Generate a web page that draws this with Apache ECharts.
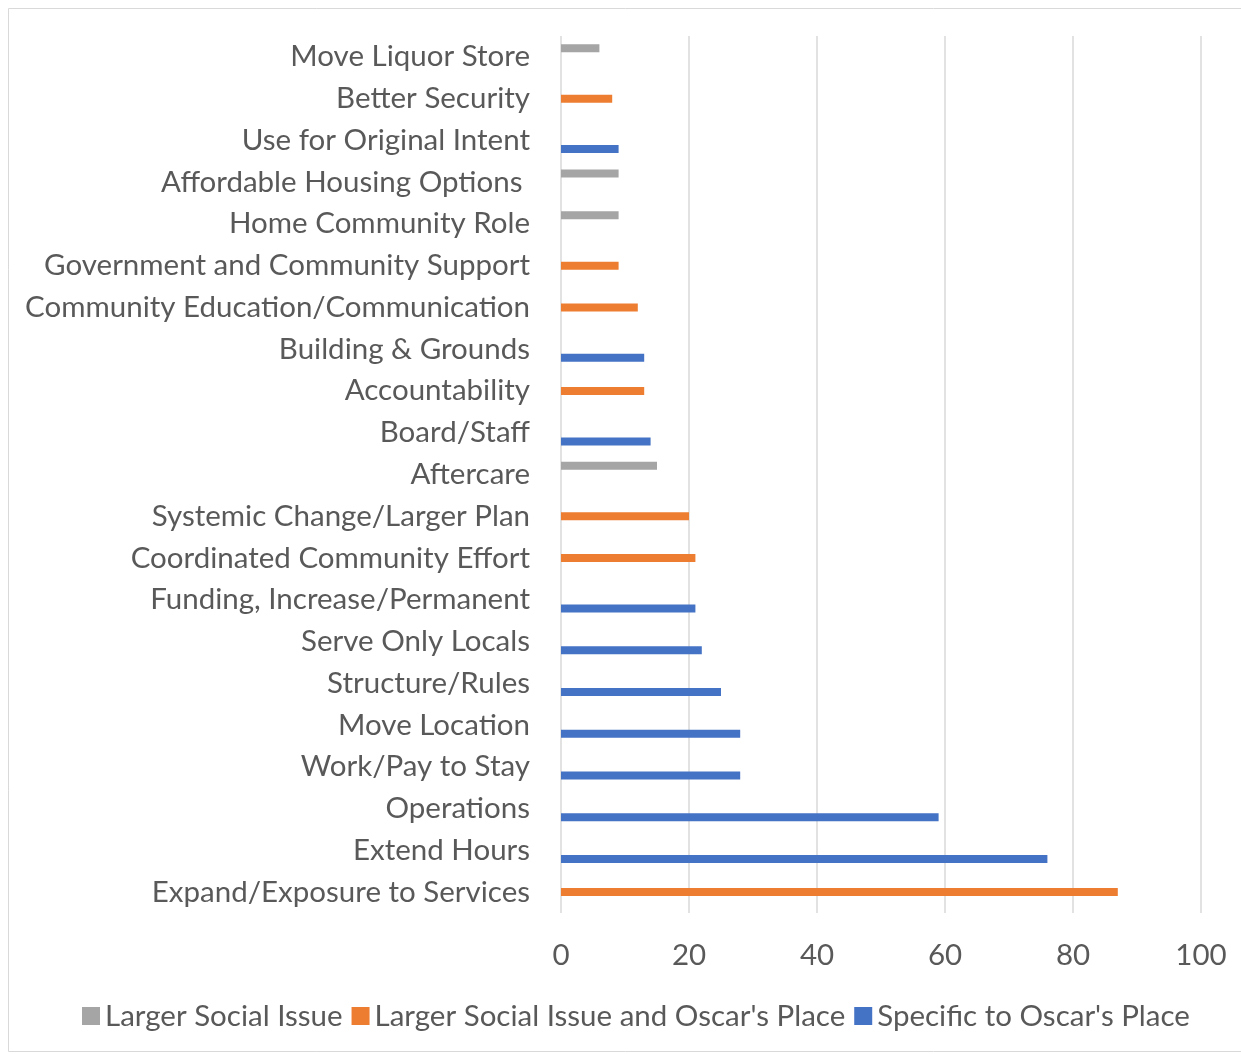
<!DOCTYPE html>
<html>
<head>
<meta charset="utf-8">
<script src="https://cdn.jsdelivr.net/npm/echarts@6/dist/echarts.min.js"></script>
<style>
  html, body { margin: 0; padding: 0; background: #fff; }
  #chart { width: 1241px; height: 1054px; }
</style>
</head>
<body>
<div id="chart"></div>
<script>
// categories, top to bottom
var categories = [
  'Move Liquor Store', 'Better Security', 'Use for Original Intent',
  'Affordable Housing Options ', 'Home Community Role',
  'Government and Community Support', 'Community Education/Communication',
  'Building & Grounds', 'Accountability', 'Board/Staff', 'Aftercare',
  'Systemic Change/Larger Plan', 'Coordinated Community Effort',
  'Funding, Increase/Permanent', 'Serve Only Locals', 'Structure/Rules',
  'Move Location', 'Work/Pay to Stay', 'Operations', 'Extend Hours',
  'Expand/Exposure to Services'
];
// one value per category; '-' where the series has no bar
var socialIssue   = [6, '-', '-', 9, 9, '-', '-', '-', '-', '-', 15, '-', '-', '-', '-', '-', '-', '-', '-', '-', '-'];
var socialAndPlace = ['-', 8, '-', '-', '-', 9, 12, '-', 13, '-', '-', 20, 21, '-', '-', '-', '-', '-', '-', '-', 87];
var oscarsPlace   = ['-', '-', 9, '-', '-', '-', '-', 13, '-', 14, '-', '-', '-', 21, 22, 25, 28, 28, 59, 76, '-'];
var seriesNames = ['Larger Social Issue', "Larger Social Issue and Oscar's Place", "Specific to Oscar's Place"];
var colors = ['#A5A5A5', '#ED7D31', '#4472C4'];

var font = 'Lato';
var textColor = '#595959';
var fs = 29.5;

var chart = echarts.init(document.getElementById('chart'));

function barSeries(name, data, color) {
  return {
    name: name,
    type: 'bar',
    data: data,
    barWidth: 8,
    barGap: '8%',
    itemStyle: { color: color },
    emphasis: { disabled: true }
  };
}

var option = {
  animation: false,
  color: colors,
  textStyle: { fontFamily: font },
  graphic: [{
    type: 'rect',
    shape: { x: 8.5, y: 8.5, width: 1260, height: 1043 },
    style: { fill: 'none', stroke: '#D9D9D9', lineWidth: 1 },
    silent: true
  }],
  grid: { left: 561, right: 40, top: 36, bottom: 141, containLabel: false },
  xAxis: {
    type: 'value',
    min: 0,
    max: 100,
    interval: 20,
    axisLine: { show: false },
    axisTick: { show: false },
    splitLine: { lineStyle: { color: '#D9D9D9', width: 1.5 } },
    axisLabel: { color: textColor, fontSize: fs, fontFamily: font, margin: 27 }
  },
  yAxis: {
    type: 'category',
    data: categories,
    inverse: true,
    axisLine: { show: false },
    axisTick: { show: false },
    axisLabel: { color: textColor, fontSize: fs, fontFamily: font, margin: 31, interval: 0 }
  },
  legend: {
    left: 77,
    top: 996,
    icon: 'rect',
    itemWidth: 18,
    itemHeight: 18,
    itemGap: 9,
    textStyle: { color: textColor, fontSize: fs, fontFamily: font, padding: [0, 0, 0, 0] },
    data: seriesNames
  },
  series: [
    barSeries(seriesNames[0], socialIssue, colors[0]),
    barSeries(seriesNames[1], socialAndPlace, colors[1]),
    barSeries(seriesNames[2], oscarsPlace, colors[2])
  ]
};

chart.setOption(option);
</script>
</body>
</html>
